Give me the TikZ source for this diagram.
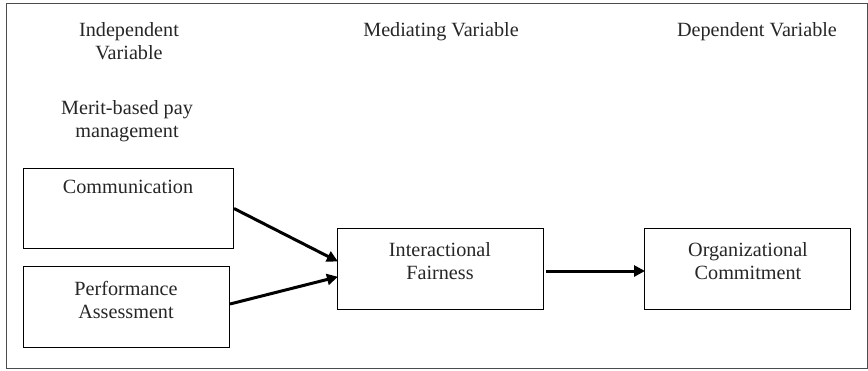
\documentclass[tikz,border=0pt]{standalone}
\usepackage{fontspec}
\setmainfont{Liberation Serif}
\usetikzlibrary{arrows.meta,calc}
\begin{document}
\begin{tikzpicture}[x=1pt,y=-1pt,
  lbl/.style={font=\fontsize{20.2}{22.5}\selectfont, align=center, text=black!85, inner sep=0pt},
  box/.style={draw, line width=1pt, inner sep=0pt},
  conn/.style={line width=3pt, -{Triangle[length=11pt,width=11pt]}, shorten >=-1pt}]
\useasboundingbox (0,0) rectangle (868,370);
\node[draw=black!70, line width=1pt, minimum width=861pt, minimum height=365pt, inner sep=0pt, anchor=north west] (frame) at (5.5,3) {};
\node[lbl] (iv) at (129,41) {Independent\\Variable};
\node[lbl] (mv) at (441,32) {Mediating Variable};
\node[lbl] (dv) at (757,32) {Dependent Variable};
\node[lbl] (mb) at (127,121) {Merit-based pay\\management};
\node[box, minimum width=210pt, minimum height=80pt, anchor=north west] (comm) at (23,168) {};
\node[lbl] at (128,187) {Communication};
\node[box, minimum width=206pt, minimum height=81pt, anchor=north west] (perf) at (23,266) {};
\node[lbl] at (126,300) {Performance\\Assessment};
\node[box, minimum width=206pt, minimum height=81pt, anchor=north west] (inter) at (337,228) {};
\node[lbl] at (440,261) {Interactional\\Fairness};
\node[box, minimum width=206pt, minimum height=81pt, anchor=north west] (org) at (644,228) {};
\node[lbl] at (748,261) {Organizational\\Commitment};
\draw[conn] (comm.east) -- ($(inter.west)+(0,-8)$);
\draw[conn] ($(perf.east)+(0,-3)$) -- ($(inter.west)+(0,8)$);
\draw[conn] ($(inter.east)+(2,2)$) -- ($(org.west)+(0,2)$);
\end{tikzpicture}
\end{document}
